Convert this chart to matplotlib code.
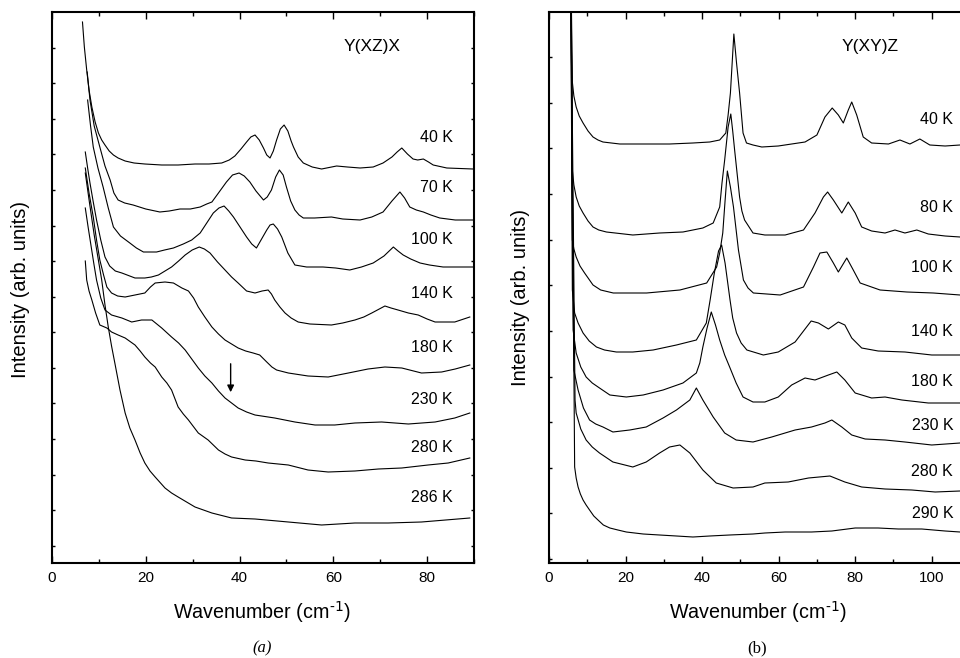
import matplotlib
matplotlib.use('Agg')
import matplotlib.pyplot as plt
from matplotlib.ticker import MultipleLocator

plt.rcParams['font.family'] = ['Liberation Sans', 'DejaVu Sans']
plt.rcParams['mathtext.default'] = 'regular'

# ---- panel (a): Y(XZ)X, intensities in arb. units (curves already offset)
a40_x = [6.5, 6.9, 7.4, 7.9, 8.5, 9.2, 9.9, 10.6, 11.3, 12.2, 13.1, 14.1, 15.6, 17.5, 19.8, 23.4,
         26.9, 30.5, 33.5, 36.2, 37.8, 39.0, 40.3, 41.5, 42.4, 43.3, 44.2, 45.1, 45.8, 46.5, 47.2,
         47.9, 48.7, 49.5, 50.3, 51.0, 51.5, 52.5, 53.6, 55.5, 57.5, 60.7, 63.0, 65.7, 68.5, 70.6,
         72.5, 73.6, 74.6, 75.8, 77.0, 78.0, 79.2, 80.3, 81.3, 84.2, 89.8]
a40_y = [541, 516, 493, 473, 456, 441, 430, 423, 418, 412, 408, 405, 402, 400, 399, 398,
         398, 399, 399, 400, 403, 407, 414, 421, 426, 428, 423, 415, 408, 405, 412,
         423, 434, 438, 432, 422, 416, 406, 400, 396, 394, 397, 396, 395, 396, 400,
         406, 411, 415, 409, 404, 403, 404, 401, 398, 395, 394]

a70_x = [7.5, 8.1, 9.0, 10.2, 11.3, 12.4, 13.2, 14.1, 15.5, 17.3, 20.0, 23.0, 25.0, 27.3, 29.5, 31.6,
         33.0, 34.1, 35.5, 37.2, 38.5, 39.9, 41.0, 42.2, 43.5, 45.1, 45.9, 46.8, 47.7, 48.5, 49.3,
         50.0, 50.9, 51.8, 52.7, 53.6, 56.0, 59.6, 62.0, 65.7, 68.2, 70.6, 72.5, 74.2, 75.2, 76.3,
         77.7, 79.2, 80.8, 82.7, 86.0, 89.8]
a70_y = [491, 463, 437, 416, 397, 383, 370, 363, 360, 358, 354, 351, 352, 354, 354, 356,
         359, 361, 370, 381, 388, 390, 387, 381, 372, 363, 366, 373, 386, 393, 388,
         376, 362, 353, 348, 345, 345, 346, 344, 343, 346, 351, 362, 371, 365, 356,
         353, 351, 348, 345, 343, 343]

a100_x = [7.6, 8.2, 8.8, 9.8, 10.9, 12.0, 13.1, 14.6, 16.6, 18.0, 19.5, 22.3, 24.0, 25.9, 28.0, 29.8,
          31.6, 33.0, 34.4, 35.6, 36.7, 37.7, 38.7, 40.1, 41.5, 42.6, 43.6, 44.7, 45.8, 46.5, 47.2,
          48.1, 49.0, 50.3, 51.8, 54.3, 57.8, 60.5, 63.5, 66.0, 68.5, 70.8, 72.8, 73.8, 74.9, 76.5,
          78.5, 80.5, 83.4, 89.8]
a100_y = [463, 438, 416, 395, 376, 355, 336, 327, 320, 315, 311, 311, 313, 315, 319, 323,
          330, 340, 350, 355, 357, 352, 346, 336, 326, 319, 315, 324, 333, 338, 339,
          334, 326, 310, 298, 296, 296, 295, 293, 296, 300, 307, 316, 312, 308, 304,
          300, 298, 296, 296]

a140_x = [7.1, 7.6, 8.1, 8.8, 9.5, 10.4, 11.3, 12.3, 13.5, 14.9, 17.7, 19.8, 21.2, 22.7, 24.1, 25.5,
          27.0, 28.4, 29.9, 31.4, 32.5, 33.7, 35.3, 36.9, 38.3, 39.7, 41.5, 43.3, 44.8, 46.1, 46.8,
          47.5, 48.6, 49.7, 51.0, 52.5, 55.0, 59.6, 62.0, 64.6, 66.5, 68.2, 69.8, 71.0, 72.3, 73.8,
          76.0, 78.1, 80.0, 81.7, 85.9, 89.1]
a140_y = [411, 395, 380, 361, 343, 323, 306, 297, 292, 290, 285, 285, 286, 288, 292, 296,
          302, 308, 313, 316, 314, 310, 301, 293, 286, 280, 272, 270, 272, 273, 269,
          263, 256, 250, 245, 241, 239, 238, 240, 243, 246, 250, 254, 257, 255, 253,
          250, 248, 244, 241, 241, 246]

a180_x = [7.1, 7.9, 8.8, 9.5, 10.2, 11.0, 11.7, 12.7, 14.0, 15.6, 17.7, 19.8, 21.0, 22.0, 24.1, 25.9,
          27.7, 29.1, 30.2, 31.2, 32.6, 34.1, 35.5, 36.9, 38.3, 39.7, 41.3, 42.9, 44.3, 45.8, 46.9,
          47.9, 50.4, 54.6, 58.9, 63.2, 67.4, 71.0, 74.6, 78.8, 83.1, 86.0, 89.1]
a180_y = [395, 370, 346, 323, 303, 288, 276, 270, 267, 266, 268, 270, 276, 280, 281, 280,
          275, 272, 265, 256, 246, 236, 229, 223, 219, 215, 212, 210, 208, 201, 196,
          193, 190, 187, 186, 190, 194, 196, 195, 190, 191, 194, 198]

a230_x = [7.1, 7.7, 8.3, 8.9, 9.5, 10.4, 11.3, 12.7, 14.9, 17.0, 19.1, 21.3, 23.4, 25.5, 27.0, 28.4,
          29.8, 31.2, 32.6, 34.1, 35.5, 36.9, 38.3, 39.7, 41.5, 43.3, 47.5, 51.8, 56.1, 60.3, 64.6,
          70.3, 76.0, 81.7, 85.9, 89.1]
a230_y = [355, 336, 318, 300, 283, 265, 253, 248, 245, 241, 243, 243, 235, 226, 220, 213,
          204, 195, 187, 180, 172, 165, 160, 155, 151, 148, 145, 141, 138, 138, 140,
          141, 139, 141, 145, 150]

a280_x = [7.1, 7.4, 7.9, 8.5, 9.3, 10.2, 11.7, 12.7, 14.1, 15.6, 17.7, 18.8, 19.8, 21.0, 22.0, 23.4,
          24.5, 25.5, 26.9, 28.0, 29.1, 31.2, 33.3, 35.5, 36.9, 38.3, 41.2, 43.5, 46.1, 50.4, 54.6,
          58.9, 64.6, 69.6, 74.6, 80.2, 84.5, 89.1]
a280_y = [302, 283, 272, 263, 250, 238, 235, 231, 228, 225, 218, 212, 206, 200, 196, 186,
          180, 173, 156, 149, 143, 130, 123, 113, 109, 106, 103, 102, 100, 98, 93,
          91, 92, 94, 95, 98, 100, 105]

a286_x = [7.1, 8.0, 9.0, 10.6, 11.3, 12.0, 12.7, 13.4, 14.5, 15.6, 16.6, 17.7, 18.8, 19.8, 20.9, 22.0,
          24.1, 25.5, 26.9, 28.7, 30.5, 32.3, 34.1, 38.3, 43.3, 50.4, 57.5, 64.6, 71.7, 78.8, 89.1]
a286_y = [390, 360, 328, 283, 258, 236, 217, 200, 173, 150, 135, 123, 110, 100, 92, 86,
          75, 70, 66, 61, 56, 53, 50, 45, 44, 41, 38, 40, 40, 41, 45]

# ---- panel (b): Y(XY)Z
b40_x = [5.65, 6.1, 6.5, 7.1, 7.9, 8.9, 10.2, 11.5, 12.8, 14.1, 18.5, 24.6, 31.5, 37.6, 42.0, 44.6,
         46.2, 46.8, 47.4, 48.3, 49.0, 49.8, 50.7, 51.6, 53.3, 55.6, 59.9, 66.9, 70.0, 72.1, 74.0,
         75.6, 76.9, 78.2, 79.1, 80.4, 82.1, 84.3, 88.7, 91.7, 94.3, 96.9, 99.5, 103.5, 107.4]
b40_y = [620, 481, 467, 456, 447, 440, 432, 426, 423, 421, 419, 419, 419, 420, 421, 423,
         430, 448, 470, 529, 500, 470, 430, 420, 418, 416, 417, 421, 428, 446, 455,
         448, 440, 453, 461, 448, 426, 420, 419, 423, 419, 424, 418, 417, 418]

b80_x = [5.65, 6.1, 6.5, 7.1, 7.9, 8.9, 10.2, 11.5, 13.0, 15.0, 21.9, 28.9, 35.0, 40.2, 42.9, 44.6,
         45.2, 45.9, 46.8, 47.5, 48.0, 48.5, 49.8, 50.4, 51.1, 53.3, 56.4, 61.7, 66.5, 69.5, 71.7,
         72.8, 74.3, 76.5, 78.2, 80.0, 81.7, 84.3, 87.8, 90.4, 93.0, 96.1, 99.1, 103.5, 107.4]
b80_y = [620, 393, 378, 366, 357, 350, 342, 336, 333, 331, 328, 330, 331, 335, 340, 356,
         380, 403, 436, 449, 432, 413, 366, 352, 343, 330, 328, 328, 333, 350, 366,
         371, 363, 350, 361, 350, 336, 332, 330, 333, 330, 333, 329, 327, 326]

b100_x = [5.65, 6.1, 6.5, 7.1, 8.1, 9.3, 11.5, 13.5, 16.8, 25.5, 34.2, 41.2, 43.8, 44.6, 45.4, 46.0,
          46.6, 47.4, 48.2, 49.5, 50.8, 52.0, 53.4, 60.4, 66.5, 69.1, 70.8, 72.6, 74.3, 75.6, 77.8,
          79.5, 81.3, 86.5, 93.5, 100.4, 107.4]
b100_y = [620, 323, 314, 306, 297, 290, 278, 273, 270, 270, 273, 280, 296, 310, 330, 362,
          392, 376, 356, 313, 283, 275, 270, 268, 276, 296, 310, 311, 300, 291, 305,
          293, 280, 273, 271, 270, 268]

b140_x = [5.65, 6.1, 6.7, 7.6, 8.9, 10.5, 12.4, 14.5, 17.6, 21.9, 27.2, 33.3, 38.5, 41.1, 42.1, 43.2,
          44.3, 45.1, 46.0, 47.3, 48.0, 49.0, 50.2, 51.7, 56.0, 59.9, 64.3, 68.5, 70.4, 73.0, 75.6,
          77.3, 79.1, 81.7, 86.0, 93.0, 100.0, 107.4]
b140_y = [620, 273, 250, 240, 230, 222, 216, 213, 211, 211, 213, 218, 223, 240, 263, 290,
          312, 318, 300, 263, 245, 230, 220, 213, 208, 211, 221, 242, 240, 234, 241,
          238, 225, 215, 212, 211, 208, 208]

b180_x = [5.65, 6.3, 7.1, 8.3, 9.7, 11.3, 13.2, 15.9, 20.2, 24.6, 29.8, 35.0, 38.5, 39.4, 40.2, 41.3,
          42.4, 43.5, 44.6, 45.9, 47.2, 48.9, 50.7, 53.3, 56.4, 59.9, 63.4, 66.9, 69.5, 73.0, 75.2,
          77.3, 80.0, 84.3, 87.8, 92.2, 99.1, 107.4]
b180_y = [620, 233, 210, 196, 186, 180, 175, 168, 166, 168, 173, 180, 190, 200, 216, 235,
          251, 238, 223, 208, 196, 180, 166, 161, 161, 166, 178, 185, 183, 188, 191,
          183, 170, 165, 166, 163, 160, 160]

b230_x = [5.65, 6.5, 7.6, 9.0, 10.6, 12.2, 14.1, 16.7, 21.1, 25.4, 29.8, 33.3, 36.8, 38.5, 40.2, 42.9,
          45.9, 48.9, 53.3, 58.2, 64.3, 68.6, 72.1, 73.9, 76.5, 79.1, 82.6, 87.8, 93.0, 100.0, 107.4]
b230_y = [620, 193, 173, 155, 143, 139, 136, 131, 133, 136, 145, 153, 163, 175, 163, 146,
          130, 123, 121, 126, 133, 136, 140, 143, 136, 128, 124, 123, 121, 118, 120]

b280_x = [5.65, 6.8, 7.1, 8.3, 9.7, 11.3, 13.2, 16.7, 21.9, 25.4, 28.9, 31.5, 34.2, 36.8, 40.2, 43.7,
          48.1, 53.3, 56.4, 62.5, 67.8, 73.4, 77.3, 81.7, 87.8, 94.8, 100.9, 107.4]
b280_y = [620, 163, 150, 134, 123, 116, 110, 101, 96, 101, 110, 116, 118, 110, 93, 80,
          75, 76, 80, 81, 85, 87, 81, 76, 74, 73, 71, 72]

b290_x = [5.65, 6.7, 7.1, 7.6, 8.2, 8.9, 9.7, 10.6, 11.7, 12.8, 14.2, 15.9, 18.0, 20.2, 24.6, 28.9,
          33.3, 37.6, 42.0, 47.2, 53.3, 56.4, 61.7, 68.6, 73.9, 80.0, 86.0, 91.3, 97.4, 103.5, 107.4]
b290_y = [620, 96, 85, 76, 69, 63, 58, 53, 47, 43, 38, 35, 33, 31, 29, 28,
          27, 26, 27, 28, 29, 30, 31, 31, 32, 35, 35, 34, 34, 32, 31]

a_curves = [(a40_x, a40_y), (a70_x, a70_y), (a100_x, a100_y), (a140_x, a140_y),
            (a180_x, a180_y), (a230_x, a230_y), (a280_x, a280_y), (a286_x, a286_y)]
b_curves = [(b40_x, b40_y), (b80_x, b80_y), (b100_x, b100_y), (b140_x, b140_y),
            (b180_x, b180_y), (b230_x, b230_y), (b280_x, b280_y), (b290_x, b290_y)]

a_labels = ["40 K", "70 K", "100 K", "140 K", "180 K", "230 K", "280 K", "286 K"]
a_label_y = [426, 375, 323, 270, 216, 164, 116, 66]
b_labels = ["40 K", "80 K", "100 K", "140 K", "180 K", "230 K", "280 K", "290 K"]
b_label_y = [443, 355, 295, 232, 182, 138, 92, 50]

a_yticks = [17.3 + 35.57 * k for k in range(15)]
b_yticks = [4.1 + 45.6 * k for k in range(12)]

fig = plt.figure(figsize=(9.6, 6.58), dpi=100)
axa = fig.add_axes([52 / 960, 95 / 658, 422 / 960, 551 / 658])
axb = fig.add_axes([549 / 960, 95 / 658, 421 / 960, 551 / 658])


def style(ax, xmax, yticks):
    ax.set_xlim(0, xmax)
    ax.set_ylim(0, 551)
    ax.xaxis.set_major_locator(MultipleLocator(20))
    ax.xaxis.set_minor_locator(MultipleLocator(10))
    ax.set_yticks(yticks)
    ax.set_yticklabels([])
    ax.tick_params(which='both', direction='in', top=True, right=True, width=1)
    ax.tick_params(axis='x', which='major', length=5, labelsize=11, pad=6)
    ax.tick_params(axis='x', which='minor', length=3)
    ax.tick_params(axis='y', length=2.5)
    for s in ax.spines.values():
        s.set_linewidth(1.5)


for x, y in a_curves:
    axa.plot(x, y, color='black', lw=0.8)
for x, y in b_curves:
    axb.plot(x, y, color='black', lw=0.8)

for lab, yy in zip(a_labels, a_label_y):
    axa.text(85.5, yy, lab, ha='right', va='center', fontsize=11.5)
for lab, yy in zip(b_labels, b_label_y):
    axb.text(105.6, yy, lab, ha='right', va='center', fontsize=11.5)

axa.text(68.2, 516, "Y(XZ)X", ha='center', va='center', fontsize=12.5)
axb.text(83.9, 516, "Y(XY)Z", ha='center', va='center', fontsize=12.5)

axa.annotate('', xy=(38.1, 168), xytext=(38.1, 202),
             arrowprops=dict(arrowstyle='-|>', color='black', lw=1, mutation_scale=10))

style(axa, 90, a_yticks)
style(axb, 110, b_yticks)

for xc in (262 / 960, 758 / 960):
    fig.text(xc, 1 - 612 / 658, r"Wavenumber (cm$^{\text{-1}}$)", ha='center', va='center',
             fontsize=14.2)
fig.text(21 / 960, 1 - 290 / 658, "Intensity (arb. units)", ha='center', va='center',
         rotation=90, fontsize=14.5)
fig.text(521 / 960, 1 - 298 / 658, "Intensity (arb. units)", ha='center', va='center',
         rotation=90, fontsize=14.5)

fig.text(262 / 960, 1 - 648 / 658, "(a)", ha='center', va='center', fontsize=12,
         family='Liberation Serif', style='italic')
fig.text(757 / 960, 1 - 648 / 658, "(b)", ha='center', va='center', fontsize=12,
         family='Liberation Serif')

fig.savefig("out.png", dpi=100)
plt.close()
